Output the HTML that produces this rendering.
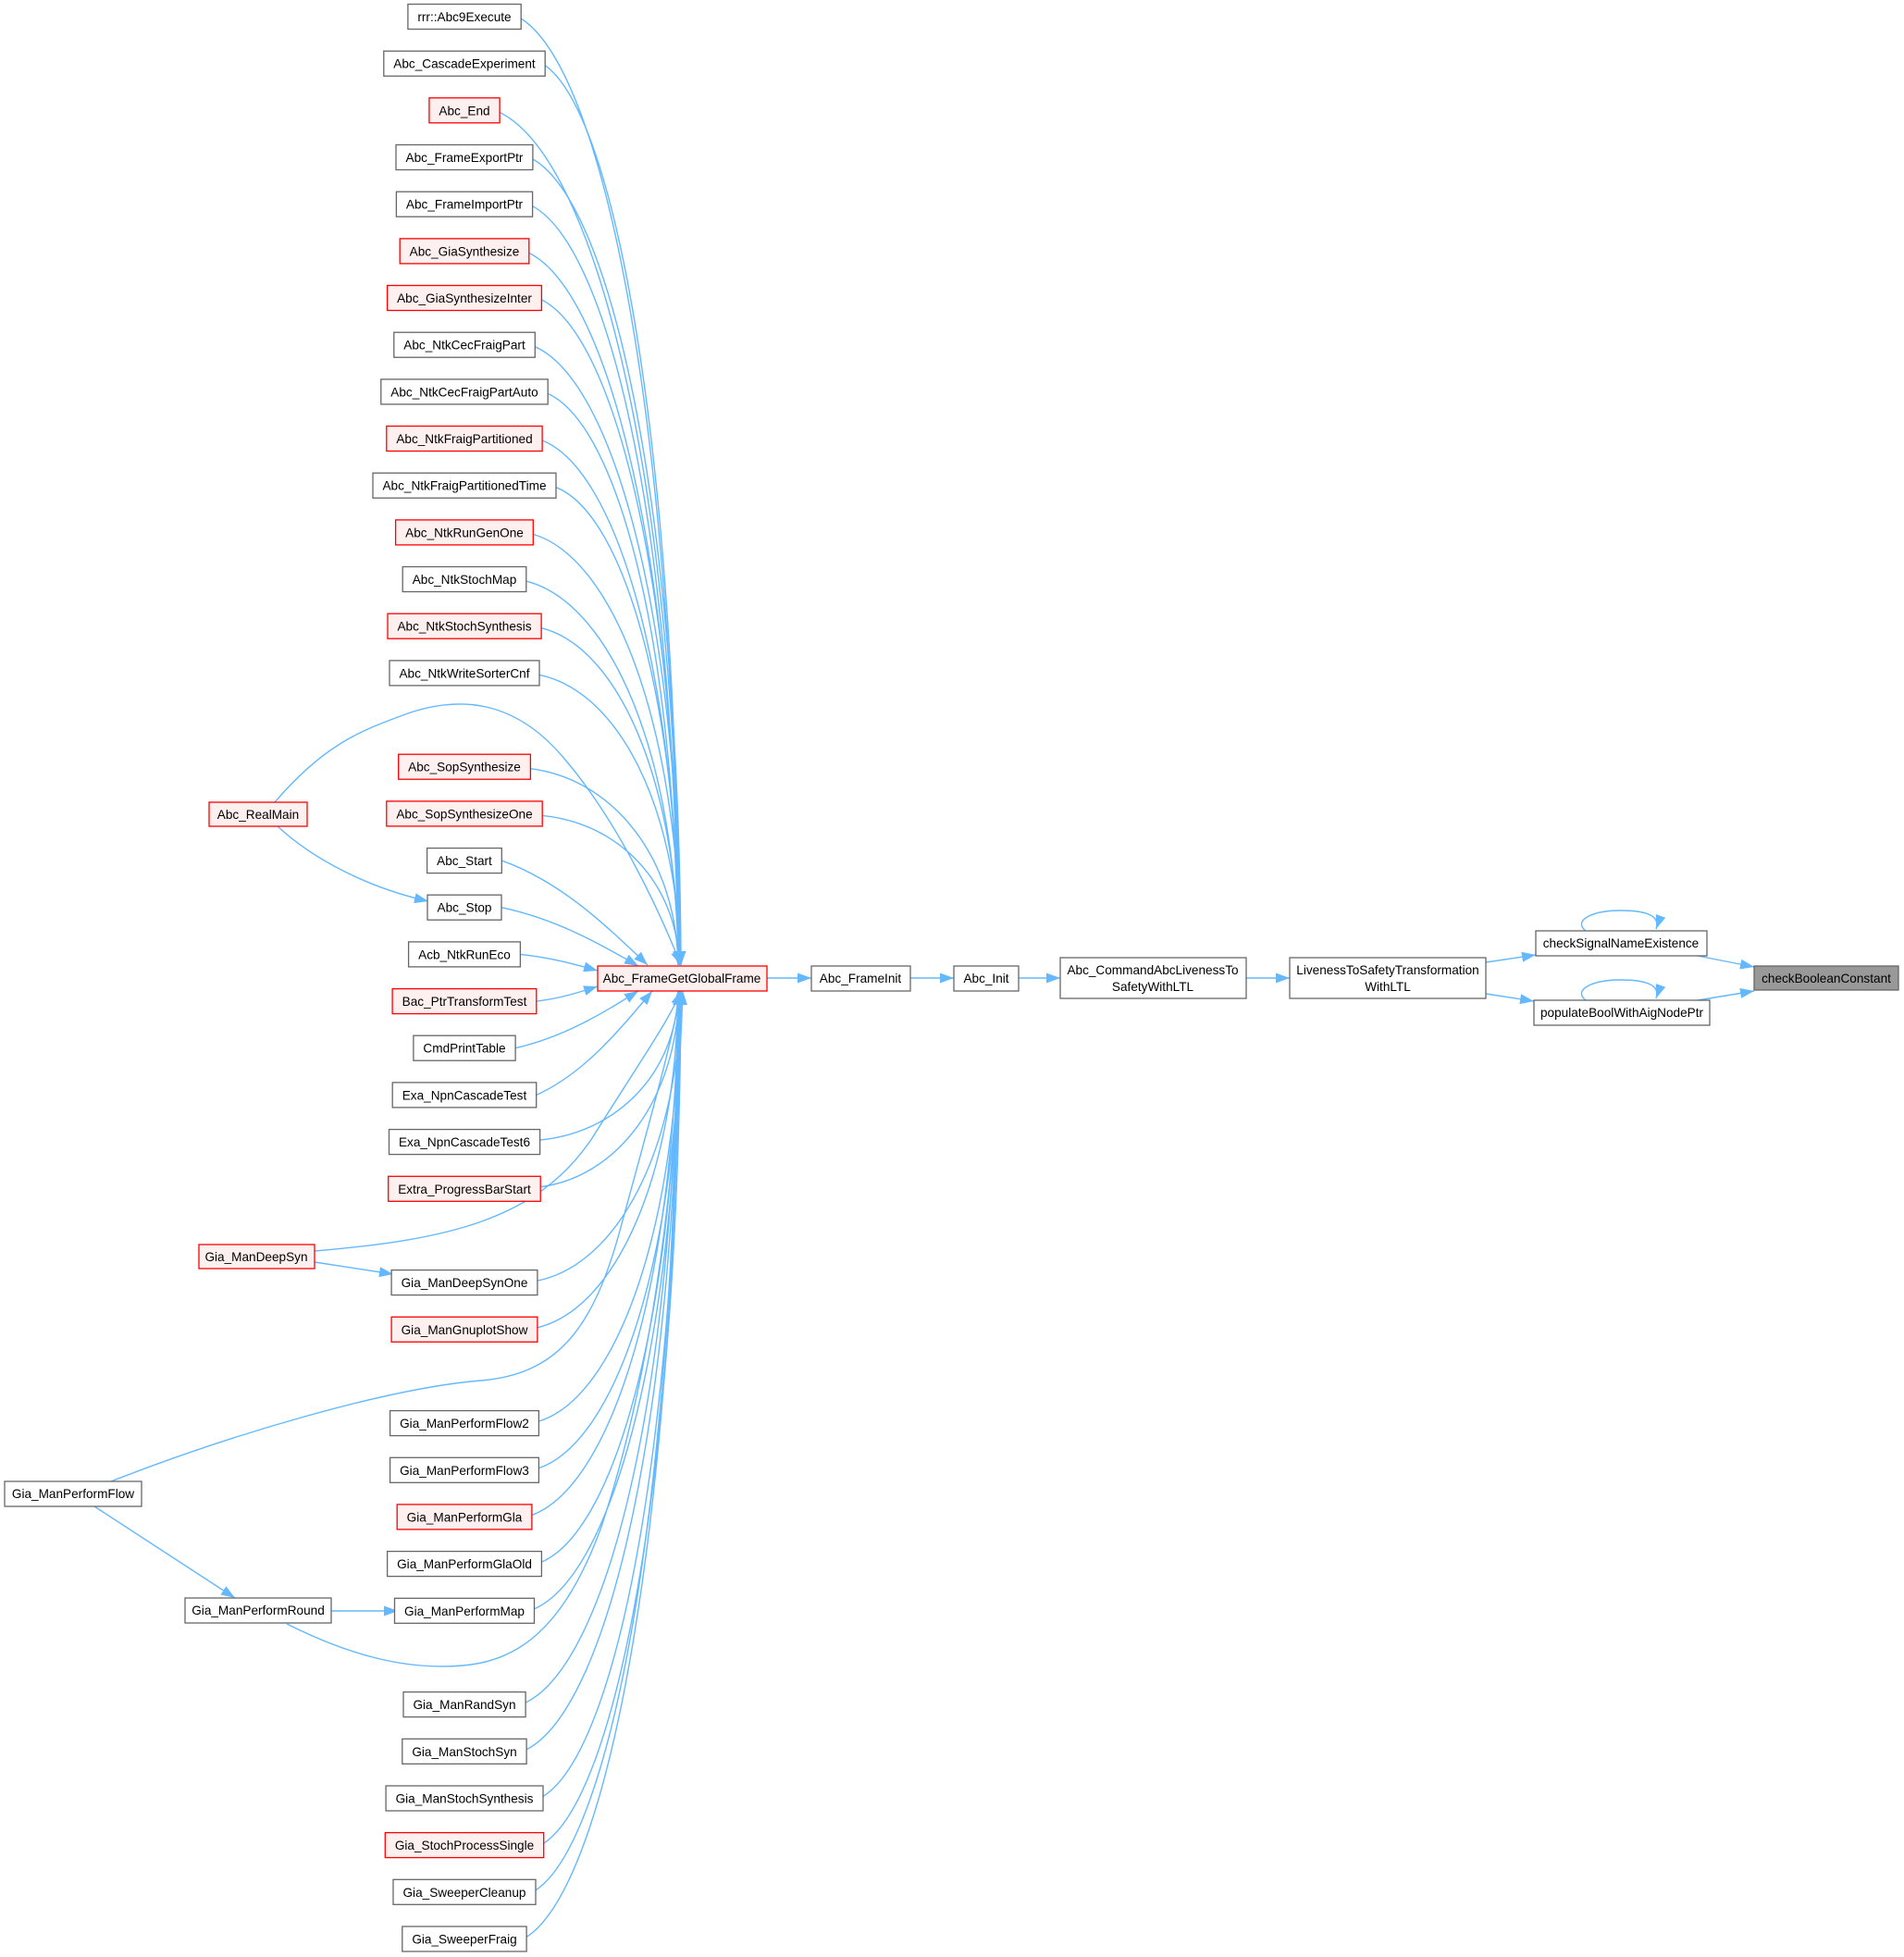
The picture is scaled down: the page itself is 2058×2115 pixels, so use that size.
<!DOCTYPE html>
<html><head><meta charset="utf-8">
<style>
html,body{margin:0;padding:0;background:#fff;}
svg{display:block;}
text{font-family:"Liberation Sans",Arial,sans-serif;font-size:13.6px;fill:#000;text-anchor:middle;}
</style></head>
<body>
<svg id="s" width="2058" height="2115" viewBox="0 0 2058 2115" xmlns="http://www.w3.org/2000/svg">
<defs>
<marker id="a" markerUnits="userSpaceOnUse" markerWidth="16" markerHeight="12" refX="15" refY="6" orient="auto">
<path d="M0,0.5 L15,6 L0,11.5 z" fill="#63b8ff"/>
</marker>
</defs>
<g id="edges" fill="none" stroke="#63b8ff" stroke-width="1.4"></g>
<g fill="none" stroke="#63b8ff" stroke-width="1.4">
<path marker-end="url(#a)" d="M297,867 C350,805 390,790 430,775 C500,747 560,760 610,820 C670,890 715,990 736,1043"/>
<path marker-end="url(#a)" d="M300,893 C340,930 400,960 463,974"/>
<path marker-end="url(#a)" d="M340,1352 C480,1340 580,1320 640,1230 C690,1150 725,1100 736,1071"/>
<path marker-end="url(#a)" d="M340,1364 L425,1377"/>
<path marker-end="url(#a)" d="M120,1601 C250,1550 420,1500 520,1492 C600,1485 640,1440 670,1330 C700,1220 728,1120 736,1071"/>
<path marker-end="url(#a)" d="M102,1628 L254,1727"/>
<path marker-end="url(#a)" d="M358,1741 L430,1741"/>
<path marker-end="url(#a)" d="M310,1755 C380,1790 440,1805 500,1800 C560,1795 610,1760 650,1650 C700,1500 730,1300 738,1071"/>
<path marker-end="url(#a)" d="M829,1057 L877,1057"/>
<path marker-end="url(#a)" d="M984,1057 L1031,1057"/>
<path marker-end="url(#a)" d="M1101,1057 L1146,1057"/>
<path marker-end="url(#a)" d="M1347,1057 L1394,1057"/>
<path marker-end="url(#a)" d="M1606,1040 L1660,1032"/>
<path marker-end="url(#a)" d="M1606,1074 L1658,1082"/>
<path marker-end="url(#a)" d="M1835,1033 L1896,1045"/>
<path marker-end="url(#a)" d="M1835,1081 L1896,1071"/>
<path marker-end="url(#a)" d="M1714,1006 C1700,995 1720,984 1752,984 C1780,984 1795,990 1790,1004"/>
<path marker-end="url(#a)" d="M1714,1081 C1700,1070 1720,1059 1752,1059 C1780,1059 1795,1065 1790,1079"/>
</g>
<g id="rects"></g>
<g id="texts">
<text class="L g" x="502" data-i="0">rrr::Abc9Execute</text>
<text class="L g" x="502" data-i="1">Abc_CascadeExperiment</text>
<text class="L r" x="502" data-i="2">Abc_End</text>
<text class="L g" x="502" data-i="3">Abc_FrameExportPtr</text>
<text class="L g" x="502" data-i="4">Abc_FrameImportPtr</text>
<text class="L r" x="502" data-i="5">Abc_GiaSynthesize</text>
<text class="L r" x="502" data-i="6">Abc_GiaSynthesizeInter</text>
<text class="L g" x="502" data-i="7">Abc_NtkCecFraigPart</text>
<text class="L g" x="502" data-i="8">Abc_NtkCecFraigPartAuto</text>
<text class="L r" x="502" data-i="9">Abc_NtkFraigPartitioned</text>
<text class="L g" x="502" data-i="10">Abc_NtkFraigPartitionedTime</text>
<text class="L r" x="502" data-i="11">Abc_NtkRunGenOne</text>
<text class="L g" x="502" data-i="12">Abc_NtkStochMap</text>
<text class="L r" x="502" data-i="13">Abc_NtkStochSynthesis</text>
<text class="L g" x="502" data-i="14">Abc_NtkWriteSorterCnf</text>
<text class="L r" x="502" data-i="16">Abc_SopSynthesize</text>
<text class="L r" x="502" data-i="17">Abc_SopSynthesizeOne</text>
<text class="L g" x="502" data-i="18">Abc_Start</text>
<text class="L g" x="502" data-i="19">Abc_Stop</text>
<text class="L g" x="502" data-i="20">Acb_NtkRunEco</text>
<text class="L r" x="502" data-i="21">Bac_PtrTransformTest</text>
<text class="L g" x="502" data-i="22">CmdPrintTable</text>
<text class="L g" x="502" data-i="23">Exa_NpnCascadeTest</text>
<text class="L g" x="502" data-i="24">Exa_NpnCascadeTest6</text>
<text class="L r" x="502" data-i="25">Extra_ProgressBarStart</text>
<text class="L g" x="502" data-i="27">Gia_ManDeepSynOne</text>
<text class="L r" x="502" data-i="28">Gia_ManGnuplotShow</text>
<text class="L g" x="502" data-i="30">Gia_ManPerformFlow2</text>
<text class="L g" x="502" data-i="31">Gia_ManPerformFlow3</text>
<text class="L r" x="502" data-i="32">Gia_ManPerformGla</text>
<text class="L g" x="502" data-i="33">Gia_ManPerformGlaOld</text>
<text class="L g" x="502" data-i="34">Gia_ManPerformMap</text>
<text class="L g" x="502" data-i="36">Gia_ManRandSyn</text>
<text class="L g" x="502" data-i="37">Gia_ManStochSyn</text>
<text class="L g" x="502" data-i="38">Gia_ManStochSynthesis</text>
<text class="L r" x="502" data-i="39">Gia_StochProcessSingle</text>
<text class="L g" x="502" data-i="40">Gia_SweeperCleanup</text>
<text class="L g" x="502" data-i="41">Gia_SweeperFraig</text>
</g>
<rect x="226" y="867" width="106" height="26" fill="#fff0f0" stroke="#ff0000" stroke-width="1.3"/>
<text x="279" y="885">Abc_RealMain</text>
<rect x="215" y="1345" width="125" height="26" fill="#fff0f0" stroke="#ff0000" stroke-width="1.3"/>
<text x="277" y="1363">Gia_ManDeepSyn</text>
<rect x="5" y="1601" width="148" height="27" fill="#fff" stroke="#666" stroke-width="1.3"/>
<text x="79" y="1619">Gia_ManPerformFlow</text>
<rect x="200" y="1727" width="158" height="27" fill="#fff" stroke="#666" stroke-width="1.3"/>
<text x="279" y="1745">Gia_ManPerformRound</text>
<rect x="646" y="1044" width="183" height="27" fill="#fff0f0" stroke="#ff0000" stroke-width="1.3"/>
<text x="737" y="1062">Abc_FrameGetGlobalFrame</text>
<rect x="877" y="1044" width="107" height="27" fill="#fff" stroke="#666" stroke-width="1.3"/>
<text x="930" y="1062">Abc_FrameInit</text>
<rect x="1031" y="1044" width="70" height="27" fill="#fff" stroke="#666" stroke-width="1.3"/>
<text x="1066" y="1062">Abc_Init</text>
<rect x="1146" y="1035" width="201" height="44" fill="#fff" stroke="#666" stroke-width="1.3"/>
<text x="1246" y="1053">Abc_CommandAbcLivenessTo</text>
<text x="1246" y="1071">SafetyWithLTL</text>
<rect x="1394" y="1035" width="212" height="44" fill="#fff" stroke="#666" stroke-width="1.3"/>
<text x="1500" y="1053">LivenessToSafetyTransformation</text>
<text x="1500" y="1071">WithLTL</text>
<rect x="1660" y="1006" width="185" height="27" fill="#fff" stroke="#666" stroke-width="1.3"/>
<text x="1752" y="1024">checkSignalNameExistence</text>
<rect x="1658" y="1081" width="190" height="27" fill="#fff" stroke="#666" stroke-width="1.3"/>
<text x="1753" y="1099">populateBoolWithAigNodePtr</text>
<rect x="1896" y="1044" width="156" height="26" fill="#999" stroke="#666" stroke-width="1.3"/>
<text x="1974" y="1062">checkBooleanConstant</text>
</svg>
<script>
(function(){
var NS="http://www.w3.org/2000/svg";
var rects=document.getElementById("rects"),edges=document.getElementById("edges");
var ts=document.querySelectorAll("#texts text");
var special={"Abc_Start":[700,1043],"Abc_Stop":[690,1044],"Acb_NtkRunEco":[646,1049],"Bac_PtrTransformTest":[646,1066],"CmdPrintTable":[690,1071],"Exa_NpnCascadeTest":[705,1071]};
ts.forEach(function(t){
  var i=+t.getAttribute("data-i");
  var yc=18+50.67*i;
  t.setAttribute("y",(yc+5).toFixed(1));
  var w=t.getComputedTextLength()+21;
  var x=502-w/2, xr=502+w/2;
  var red=t.classList.contains("r");
  var r=document.createElementNS(NS,"rect");
  r.setAttribute("x",x.toFixed(1));r.setAttribute("y",(yc-13.5).toFixed(1));
  r.setAttribute("width",w.toFixed(1));r.setAttribute("height","27");
  r.setAttribute("fill",red?"#fff0f0":"#fff");r.setAttribute("stroke",red?"#ff0000":"#666");
  r.setAttribute("stroke-width","1.3");
  rects.appendChild(r);
  var name=t.textContent, p=document.createElementNS(NS,"path"), d;
  if(special[name]){
    var e=special[name];
    d="M"+xr+","+yc+" C"+(xr+(e[0]-xr)*0.4)+","+(yc+(e[1]-yc)*0.2)+" "+(xr+(e[0]-xr)*0.7)+","+(yc+(e[1]-yc)*0.6)+" "+e[0]+","+e[1];
  } else if(yc<1044){
    var tx=733+(i%4), ty=1043, dy=ty-yc;
    d="M"+xr+","+(yc+2)+" C"+(xr+(tx-xr)*0.55)+","+(yc+dy*0.06)+" "+(tx-2)+","+(yc+dy*0.45)+" "+tx+","+ty;
  } else {
    var tx=733+(i%4), ty=1071, dy=ty-yc;
    d="M"+xr+","+(yc-2)+" C"+(xr+(tx-xr)*0.55)+","+(yc+dy*0.06)+" "+(tx-2)+","+(yc+dy*0.45)+" "+tx+","+ty;
  }
  p.setAttribute("d",d);p.setAttribute("marker-end","url(#a)");
  edges.appendChild(p);
});
})();
</script>
</body></html>
